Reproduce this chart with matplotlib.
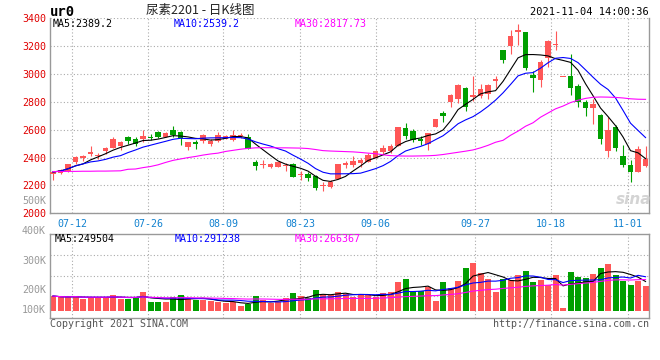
import numpy as np
import pandas as pd
import matplotlib
matplotlib.use('Agg')
import matplotlib.pyplot as plt

# daily candles, 2021-07-07 .. 2021-11-04
opens = [2279, 2290, 2305, 2365, 2395, 2428, 2410, 2445, 2468, 2480,
         2545, 2530, 2532, 2550, 2586, 2548, 2596, 2582, 2476, 2510,
         2518, 2498, 2520, 2535, 2527, 2558, 2550, 2370, 2346, 2335,
         2334, 2340, 2352, 2272, 2282, 2268, 2193, 2190, 2248, 2348,
         2350, 2362, 2369, 2400, 2437, 2450, 2483, 2609, 2590, 2530,
         2500, 2619, 2721, 2798, 2824, 2900, 2836, 2845, 2860, 2948,
         3174, 3198, 3305, 3300, 2993, 2955, 3114, 3205, 2978, 2988,
         2917, 2802, 2755, 2709, 2448, 2619, 2409, 2345, 2298, 2340]
highs = [2302, 2320, 2355, 2410, 2418, 2480, 2435, 2478, 2545, 2520,
         2552, 2545, 2595, 2566, 2590, 2582, 2625, 2590, 2512, 2525,
         2570, 2530, 2582, 2565, 2597, 2578, 2568, 2385, 2386, 2362,
         2370, 2362, 2358, 2305, 2295, 2275, 2228, 2240, 2353, 2376,
         2410, 2400, 2432, 2458, 2490, 2500, 2620, 2650, 2602, 2555,
         2580, 2676, 2733, 2855, 2930, 2905, 2983, 2931, 2926, 2988,
         3176, 3317, 3360, 3302, 3022, 3098, 3245, 3312, 2978, 3145,
         2931, 2817, 2821, 2712, 2693, 2631, 2488, 2383, 2483, 2483]
lows = [2240, 2280, 2300, 2356, 2378, 2412, 2390, 2425, 2466, 2458,
        2498, 2482, 2515, 2526, 2540, 2545, 2545, 2490, 2452, 2460,
        2502, 2484, 2515, 2530, 2522, 2538, 2462, 2312, 2326, 2327,
        2330, 2302, 2258, 2240, 2233, 2168, 2162, 2180, 2245, 2322,
        2330, 2333, 2366, 2397, 2425, 2432, 2482, 2530, 2512, 2490,
        2455, 2617, 2655, 2762, 2793, 2733, 2805, 2826, 2824, 2900,
        3078, 3143, 3210, 3026, 2869, 2905, 3050, 3170, 2978, 2852,
        2764, 2698, 2638, 2495, 2405, 2448, 2336, 2226, 2296, 2336]
closes = [2297, 2310, 2352, 2404, 2410, 2440, 2418, 2466, 2531, 2510,
          2518, 2498, 2555, 2542, 2550, 2578, 2562, 2542, 2510, 2498,
          2560, 2518, 2560, 2555, 2560, 2565, 2465, 2340, 2350, 2357,
          2368, 2350, 2262, 2280, 2255, 2183, 2203, 2223, 2352, 2363,
          2376, 2385, 2420, 2446, 2470, 2485, 2619, 2555, 2528, 2518,
          2574, 2674, 2698, 2852, 2924, 2764, 2852, 2895, 2924, 2967,
          3098, 3274, 3317, 3040, 2970, 3083, 3240, 3217, 2978, 2900,
          2798, 2755, 2788, 2536, 2595, 2471, 2348, 2298, 2459, 2388]
ma30 = [2300, 2300, 2301, 2301, 2302, 2302, 2303, 2303, 2304, 2305,
        2316, 2318, 2328, 2336, 2348, 2365, 2380, 2390, 2400, 2408,
        2418, 2426, 2432, 2444, 2452, 2460, 2466, 2470, 2471, 2471,
        2470, 2470, 2469, 2468, 2465, 2458, 2450, 2447, 2445, 2443,
        2441, 2437, 2432, 2428, 2420, 2414, 2412, 2411, 2411, 2412,
        2413, 2416, 2422, 2430, 2438, 2446, 2455, 2470, 2488, 2510,
        2524, 2560, 2590, 2625, 2650, 2690, 2720, 2750, 2770, 2795,
        2812, 2825, 2833, 2835, 2834, 2832, 2828, 2822, 2819, 2818]
volume = [127, 116, 116, 127, 102, 116, 116, 116, 136, 102,
          102, 116, 164, 76, 76, 76, 119, 136, 102, 91,
          93, 85, 79, 65, 79, 42, 57, 127, 93, 65,
          79, 110, 153, 127, 113, 178, 136, 136, 164, 142,
          122, 136, 136, 116, 150, 164, 249, 272, 164, 170,
          201, 88, 249, 198, 258, 368, 410, 325, 272, 164,
          272, 263, 306, 340, 249, 263, 221, 306, 28, 334,
          291, 283, 314, 368, 399, 306, 255, 221, 255, 215]
date_labels = ['07-12', '07-26', '08-09', '08-23', '09-06', '09-27', '10-18', '11-01']
date_pos = [2.53, 12.67, 22.73, 32.93, 43.03, 56.27, 66.4, 76.63]

RED = '#ff5757'
GREEN = '#009f00'
GRID = '#aaaaaa'
SPINE = '#999999'
MONO = 'DejaVu Sans Mono'

o = np.array(opens, float)
h = np.array(highs, float)
l = np.array(lows, float)
c = np.array(closes, float)
vol = np.array(volume, float) * 1000
x = np.arange(len(c))
up = c >= o
colors = np.where(up, RED, GREEN)

W, H = 660, 360
fig = plt.figure(figsize=(6.6, 3.6), dpi=100)
fig.patch.set_facecolor('white')


def px_axes(left, top, right, bottom):
    return fig.add_axes([left / W, 1 - bottom / H, (right - left) / W, (bottom - top) / H])


ax = px_axes(50, 18.3, 649.3, 213.3)
axv = px_axes(50, 234.3, 649.3, 318.3)

# price panel
ax.vlines(x, l, h, colors=colors, lw=0.8, zorder=2)
body = np.maximum(np.abs(c - o), 6)
ax.bar(x, body, bottom=np.minimum(o, c), width=0.75, color=colors, lw=0, zorder=3)
s = pd.Series(c)
ax.plot(x, s.rolling(5, min_periods=1).mean(), color='black', lw=0.8, zorder=4)
ax.plot(x, s.rolling(10, min_periods=1).mean(), color='#0000ff', lw=0.8, zorder=4)
ax.plot(x, ma30, color='#ff00ff', lw=0.8, zorder=4)

ax.set_xlim(-0.4, 79.5)
ax.set_ylim(2000, 3400)
ax.set_yticks(range(2000, 3401, 200))
ax.set_xticks(date_pos)
ax.set_xticklabels(date_labels)
ax.grid(True, color=GRID, linestyle=(0, (1, 2)), lw=0.8)
ax.set_axisbelow(True)
ax.tick_params(length=0, labelsize=7.2, pad=3)
ax.tick_params(axis='y', labelcolor='#e00000')
ax.tick_params(axis='x', labelcolor='#1282d0', pad=4)
for lab in ax.get_xticklabels() + ax.get_yticklabels():
    lab.set_family(MONO)
ax.spines['top'].set_visible(False)
for sp in ['left', 'right', 'bottom']:
    ax.spines[sp].set_color(SPINE)
    ax.spines[sp].set_linewidth(1)

# volume panel
axv.bar(x, vol, width=0.8, color=colors, lw=0, zorder=2)
vs = pd.Series(vol)
axv.plot(x, vs.rolling(5, min_periods=1).mean(), color='black', lw=0.8, zorder=3)
axv.plot(x, vs.rolling(10, min_periods=1).mean(), color='#0000ff', lw=0.8, zorder=3)
axv.plot(x, vs.rolling(30, min_periods=1).mean(), color='#ff00ff', lw=0.8, zorder=3)
axv.set_xlim(-0.4, 79.5)
axv.set_ylim(-62000, 651000)
axv.set_xticks(date_pos)
axv.set_yticks([125000, 300000, 475000])
axv.grid(True, color=GRID, linestyle=(0, (1, 2)), lw=0.8)
axv.set_axisbelow(True)
axv.tick_params(length=0, labelbottom=False, labelleft=False)
for sp in axv.spines.values():
    sp.set_color(SPINE)
    sp.set_linewidth(1)


def ptext(px, py, txt, **kw):
    kw.setdefault('family', MONO)
    kw.setdefault('fontsize', 7.2)
    kw.setdefault('va', 'center')
    fig.text(px / W, 1 - py / H, txt, **kw)


# header
ptext(50, 11.5, 'ur0', fontsize=10, weight='bold', color='black')
ptext(200, 10.5, '尿素2201 - 日K线图', ha='center', fontsize=9, color='#222222',
      family=['Noto Sans CJK SC', 'DejaVu Sans'])
ptext(649, 12, '2021-11-04 14:00:36', ha='right', fontsize=7.5, color='black')

ptext(53, 24, 'MA5:2389.2', color='black')
ptext(174, 24, 'MA10:2539.2', color='#0000ff')
ptext(295, 24, 'MA30:2817.73', color='#ff00ff')
ptext(46, 201, '500K', ha='right', color='#999999')

ptext(55, 238.5, 'MA5:249504', color='black')
ptext(175, 238.5, 'MA10:291238', color='#0000ff')
ptext(295, 238.5, 'MA30:266367', color='#ff00ff')
for yy, txt in [(230.7, '400K'), (260.7, '300K'), (290, '200K'), (310, '100K')]:
    ptext(46, yy, txt, ha='right', color='#999999')

ptext(50, 324, 'Copyright 2021 SINA.COM', color='#555555')
ptext(649, 324, 'http://finance.sina.com.cn', ha='right', color='#555555')

# watermark
ptext(651, 200, 'sina', ha='right', family='DejaVu Sans', fontsize=11,
      weight='bold', style='italic', color='#d4d4d4')

fig.savefig('out.png', dpi=100, facecolor='white')
